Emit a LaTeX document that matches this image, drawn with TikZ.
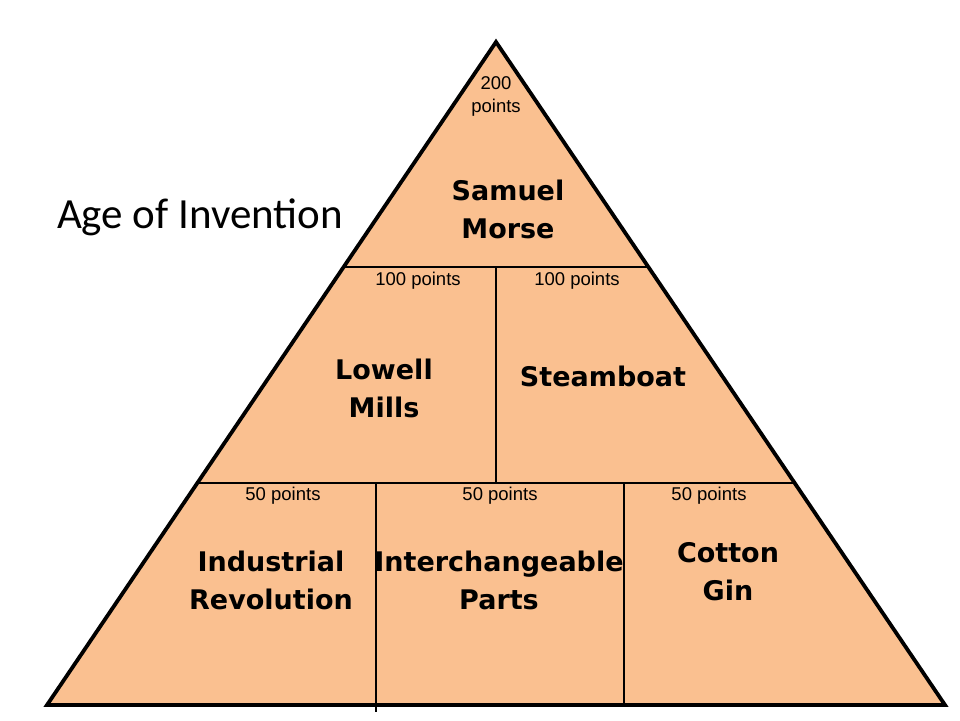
\documentclass[tikz,border=0pt]{standalone}
\usepackage{fontspec}
\setmainfont{Liberation Sans}
\newfontfamily\labelfont{DejaVu Sans}
\newfontfamily\titlefont{Carlito}
\usepackage{xcolor}
\definecolor{peach}{HTML}{FAC090}

\begin{document}
\begin{tikzpicture}[x=1pt, y=-1pt, line join=miter]
                % pyramid: 1 + 2 + 3 blocks, pts = value, topic = question
                \tikzstyle{every node}=[inner sep=0pt, align=center]
                \tikzstyle{pts}=[font=\fontsize{18.5}{23}\selectfont]
                \tikzstyle{topic}=[font=\labelfont\bfseries\fontsize{27}{38}\selectfont]
                \tikzstyle{divider}=[black, line width=1.3pt]
                \useasboundingbox (0,0) rectangle (960,720);

                \coordinate (apex) at (496,42);
                \coordinate (BL) at (47,705);
                \coordinate (BR) at (945,705);
                \coordinate (L1) at (343.6,267);
                \coordinate (R1) at (648.4,267);
                \coordinate (L2) at (197.3,483);
                \coordinate (R2) at (794.7,483);
                \coordinate (M1) at (496,267);
                \coordinate (M2) at (496,483);
                \coordinate (A2) at (376,483);
                \coordinate (A3) at (376,712);
                \coordinate (B2) at (624,483);
                \coordinate (B3) at (624,705);

                \fill[peach] (apex) -- (BL) -- (BR) -- cycle;

                \draw[divider] (L1) -- (R1);
                \draw[divider] (L2) -- (R2);
                \draw[divider] (M1) -- (M2);
                \draw[divider] (A2) -- (A3);
                \draw[divider] (B2) -- (B3);

                \draw[line width=3.8pt] (apex) -- (BL) -- (BR) -- cycle;

                \node[font=\titlefont\fontsize{43}{50}\selectfont] (title) at (200,217) {Age of Invention};

                \node[pts] (p200) at (496,96.5) {200\\points};
                \node[topic] (morse) at (508,209) {Samuel\\Morse};

                \node[pts] (p100a) at (418,281) {100 points};
                \node[pts] (p100b) at (577,281) {100 points};
                \node[topic] (lowell) at (384,388) {Lowell\\Mills};
                \node[topic] (steam) at (603,376) {Steamboat};

                \node[pts] (p50a) at (283,496) {50 points};
                \node[pts] (p50b) at (500,496) {50 points};
                \node[pts] (p50c) at (709,496) {50 points};
                \node[topic] (indrev) at (271,580) {Industrial\\Revolution};
                \node[topic] (parts) at (499,580) {Interchangeable\\Parts};
                \node[topic] (gin) at (728,572) {Cotton\\Gin};
\end{tikzpicture}
\end{document}
